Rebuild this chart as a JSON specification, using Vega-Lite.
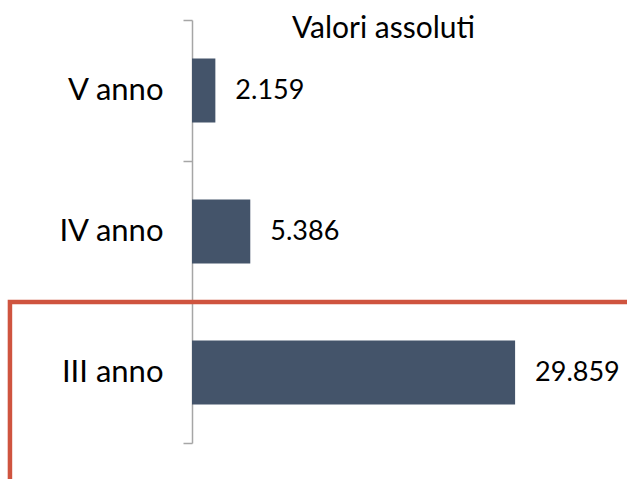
{
  "$schema": "https://vega.github.io/schema/vega-lite/v6.json",
  "width": 435,
  "height": 423,
  "autosize": "none",
  "padding": {"left": 192, "top": 20, "right": 0, "bottom": 36},
  "background": "white",
  "title": {
    "text": "Valori assoluti",
    "font": "Lato",
    "fontSize": 30,
    "fontWeight": "normal",
    "color": "#000000",
    "anchor": "middle",
    "frame": "group",
    "baseline": "top",
    "offset": -40,
    "dx": -26
  },
  "config": {
    "view": {"stroke": null},
    "locale": {"number": {"decimal": ",", "thousands": ".", "grouping": [3], "currency": ["€", ""]}}
  },
  "layer": [
    {
      "data": {
        "values": [
          {"anno": "V anno", "valore": 2159},
          {"anno": "IV anno", "valore": 5386},
          {"anno": "III anno", "valore": 29859}
        ]
      },
      "encoding": {
        "y": {
          "field": "anno",
          "type": "nominal",
          "sort": null,
          "scale": {"paddingInner": 0, "paddingOuter": 0},
          "axis": {
            "title": null,
            "bandPosition": 1,
            "tickExtra": true,
            "domainColor": "#A6A6A6",
            "domainWidth": 1.5,
            "tickColor": "#A6A6A6",
            "tickWidth": 1.5,
            "tickSize": 9,
            "labelFont": "Lato",
            "labelFontSize": 31,
            "labelColor": "#000000",
            "labelPadding": 20
          }
        },
        "x": {
          "field": "valore",
          "type": "quantitative",
          "scale": {"domain": [0, 40200], "nice": false, "zero": true},
          "axis": null
        }
      },
      "layer": [
        {"mark": {"type": "bar", "color": "#44546A", "height": {"band": 0.455}}},
        {
          "mark": {"type": "text", "align": "left", "baseline": "middle", "dx": 20, "font": "Lato", "fontSize": 27, "color": "#000000"},
          "encoding": {"text": {"field": "valore", "type": "quantitative", "format": ",d"}}
        }
      ]
    },
    {
      "data": {
        "values": [
          {"i": 1, "x": -16824, "y": -0.3},
          {"i": 2, "x": -16824, "y": 1.0},
          {"i": 3, "x": 42000, "y": 1.0}
        ]
      },
      "mark": {"type": "line", "color": "#CF543F", "strokeWidth": 4.5, "clip": false, "strokeJoin": "miter", "strokeCap": "butt"},
      "encoding": {
        "x": {"field": "x", "type": "quantitative"},
        "y": {"field": "y", "type": "quantitative", "scale": {"domain": [0, 3], "nice": false, "zero": false}, "axis": null},
        "order": {"field": "i", "type": "quantitative"}
      }
    }
  ],
  "resolve": {"scale": {"y": "independent"}}
}
